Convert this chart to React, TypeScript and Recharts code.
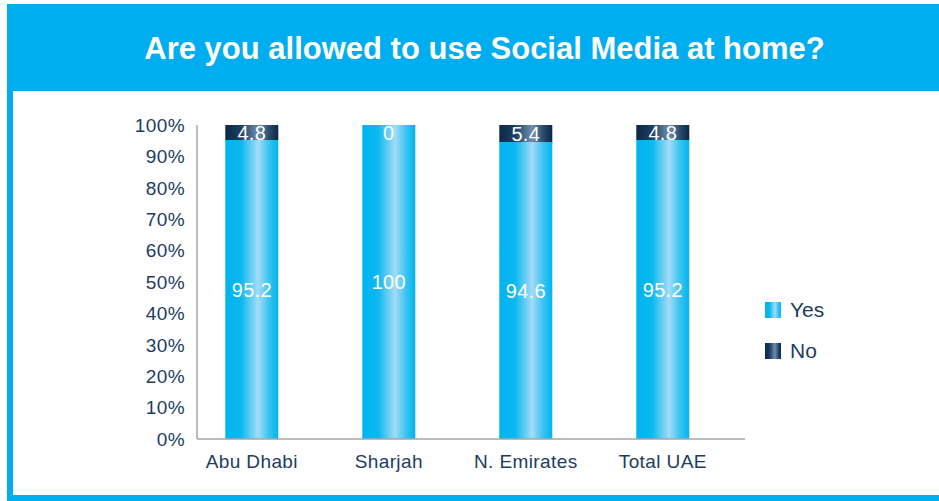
import React from 'react';
import { BarChart, Bar, XAxis, YAxis, LabelList, Legend } from 'recharts';

const categories = ['Abu Dhabi', 'Sharjah', 'N. Emirates', 'Total UAE'];
const yesValues = [95.2, 100, 94.6, 95.2];
const noValues = [4.8, 0, 5.4, 4.8];
const yTicks = [0, 10, 20, 30, 40, 50, 60, 70, 80, 90, 100];

const data = categories.map((name, i) => ({
  pos: i + 1,
  name,
  yes: yesValues[i],
  no: noValues[i],
}));

const BLUE = '#00adef';
const NAVY = '#1c3d62';
const FONT = '"Liberation Sans", Arial, Helvetica, sans-serif';

const yesCss = 'linear-gradient(to right, #00b4ef 0%, #0cb8f0 30%, #a3dcf6 62%, #3cc4f2 82%, #00b4ef 100%)';
const noCss = 'linear-gradient(to right, #0b2846 0%, #1d3f62 30%, #6f8fae 62%, #2c4d70 82%, #0a2644 100%)';

// "No" label drawn from the Yes bar, so the zero segment still gets its label
const NoLabel = (props: any) => {
  const { x, y, width, height, index } = props;
  const yes = yesValues[index];
  const no = noValues[index];
  const noH = yes ? (height * no) / yes : 0;
  const top = y - noH;
  return (
    <text
      x={x + width / 2}
      y={top + Math.max(noH / 2, 8)}
      dy="0.355em"
      textAnchor="middle"
      fill="#ffffff"
      fontSize={20}
      style={{ letterSpacing: 0.3 }}
    >
      {no}
    </text>
  );
};

const LegendBox = () => (
  <div style={{ fontFamily: FONT, color: NAVY, fontSize: 21 }}>
    {[
      { label: 'Yes', bg: yesCss },
      { label: 'No', bg: noCss },
    ].map((item) => (
      <div key={item.label} style={{ display: 'flex', alignItems: 'center', height: 41 }}>
        <span style={{ width: 16, height: 16, background: item.bg, display: 'inline-block', marginRight: 9 }} />
        <span>{item.label}</span>
      </div>
    ))}
  </div>
);

export default function App() {
  return (
    <div
      style={{
        position: 'fixed',
        left: 0,
        top: 0,
        width: 939,
        height: 501,
        overflow: 'hidden',
        background: '#ffffff',
        fontFamily: FONT,
      }}
    >
      {/* frame + title bar */}
      <div style={{ position: 'absolute', left: 7, top: 4, width: 940, height: 497, background: BLUE }} />
      <div style={{ position: 'absolute', left: 13, top: 91, width: 930, height: 404, background: '#ffffff' }} />
      <div
        style={{
          position: 'absolute',
          left: 30,
          top: 33,
          width: 909,
          height: 31,
          lineHeight: '31px',
          textAlign: 'center',
          color: '#ffffff',
          fontWeight: 'bold',
          fontSize: 31,
        }}
      >
        Are you allowed to use Social Media at home?
      </div>

      <div style={{ position: 'absolute', left: 0, top: 0 }}>
        <BarChart width={939} height={501} data={data} margin={{ top: 125, right: 194, bottom: 32, left: 137 }}>
          <defs>
            <linearGradient id="yesGrad" x1="0" y1="0" x2="1" y2="0">
              <stop offset="0%" stopColor="#00b4ef" />
              <stop offset="30%" stopColor="#0cb8f0" />
              <stop offset="62%" stopColor="#a3dcf6" />
              <stop offset="82%" stopColor="#3cc4f2" />
              <stop offset="100%" stopColor="#00b4ef" />
            </linearGradient>
            <linearGradient id="noGrad" x1="0" y1="0" x2="1" y2="0">
              <stop offset="0%" stopColor="#0b2846" />
              <stop offset="30%" stopColor="#1d3f62" />
              <stop offset="62%" stopColor="#6f8fae" />
              <stop offset="82%" stopColor="#2c4d70" />
              <stop offset="100%" stopColor="#0a2644" />
            </linearGradient>
          </defs>
          <XAxis
            type="number"
            dataKey="pos"
            domain={[0.6, 4.6]}
            ticks={[1, 2, 3, 4]}
            tickFormatter={(v: number) => categories[v - 1]}
            axisLine={{ stroke: '#a6a6a6', strokeWidth: 1.5 }}
            tickLine={false}
            tickSize={0}
            tickMargin={16}
            height={30}
            tick={{ fill: NAVY, fontSize: 19, style: { letterSpacing: 0.4 } }}
            allowDataOverflow
          />
          <YAxis
            type="number"
            domain={[0, 100]}
            ticks={yTicks}
            tickFormatter={(v: number) => `${v}%`}
            axisLine={{ stroke: '#a6a6a6', strokeWidth: 1.5 }}
            tickLine={false}
            tickSize={0}
            tickMargin={12}
            width={60}
            tick={{ fill: NAVY, fontSize: 19, style: { letterSpacing: 0.4 } }}
          />
          <Legend
            layout="vertical"
            align="center"
            verticalAlign="middle"
            wrapperStyle={{ left: 765, top: 289, width: 120 }}
            content={() => <LegendBox />}
          />
          <Bar dataKey="yes" name="Yes" stackId="a" fill="url(#yesGrad)" barSize={53} isAnimationActive={false}>
            <LabelList
              dataKey="yes"
              position="center"
              fill="#ffffff"
              fontSize={20}
              style={{ letterSpacing: 0.3 }}
            />
            <LabelList dataKey="no" content={NoLabel} />
          </Bar>
          <Bar dataKey="no" name="No" stackId="a" fill="url(#noGrad)" barSize={53} isAnimationActive={false} />
        </BarChart>
      </div>
    </div>
  );
}
